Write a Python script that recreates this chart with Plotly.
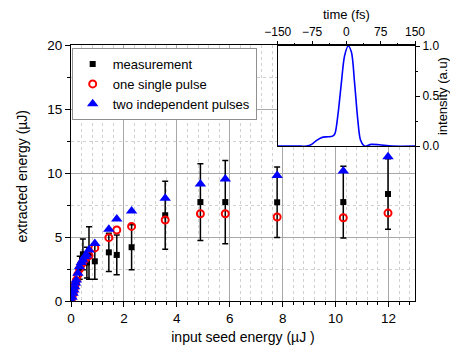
import plotly.graph_objects as go

# ---- main data ----
meas_x = [0.33, 0.45, 0.60, 0.68, 0.90, 1.43, 1.73, 2.29, 3.56, 4.89, 5.83, 7.79, 10.29, 11.98]
meas_y = [2.60, 3.65, 3.00, 3.75, 3.10, 3.80, 3.60, 4.20, 6.70, 7.73, 7.73, 7.71, 7.73, 8.36]
meas_err = [0.90, 1.20, 1.20, 2.05, 1.40, 1.50, 1.55, 1.75, 2.65, 3.00, 3.25, 2.75, 2.80, 2.76]

sim_x = [0.01, 0.04, 0.08, 0.11, 0.14, 0.17, 0.20, 0.26, 0.32, 0.39, 0.45, 0.52, 0.58, 0.68,
         0.90, 1.43, 1.73, 2.29, 3.56, 4.89, 5.83, 7.79, 10.29, 11.98]
single_y = [0.0, 0.30, 0.60, 0.85, 1.10, 1.35, 1.60, 2.05, 2.50, 2.85, 3.05, 3.25, 3.40, 3.55,
            4.15, 4.95, 5.55, 5.83, 6.33, 6.82, 6.82, 6.56, 6.50, 6.87]
two_y = [0.0, 0.30, 0.60, 0.85, 1.12, 1.40, 1.64, 2.16, 2.68, 3.00, 3.20, 3.45, 3.60, 3.98,
         4.50, 5.60, 6.40, 7.03, 8.02, 9.14, 9.53, 9.80, 10.16, 11.27]

# ---- inset data ----
t_fs = [-150, -100, -87, -76, -65, -51, -40, -30, -25, -18, -11, -4, 4, 11, 18, 25, 31, 40, 54, 72, 100, 150]
inten = [0, 0, 0.0, 0.017, 0.058, 0.09, 0.093, 0.10, 0.125, 0.33, 0.63, 0.90, 1.0, 0.94, 0.63, 0.26,
         0.06, 0.0, 0.017, 0.013, 0.0, 0.0]

y_title = "extracted energy (µJ)"
FONT = "Liberation Sans, Arial, sans-serif"

fig = go.Figure()
fig.add_trace(go.Scatter(
    x=meas_x, y=meas_y, mode="markers", name="measurement",
    marker=dict(symbol="square", size=6, color="black"),
    error_y=dict(type="data", array=meas_err, color="black", thickness=1.5, width=3),
))
fig.add_trace(go.Scatter(
    x=sim_x, y=single_y, mode="markers", name="one single pulse",
    marker=dict(symbol="circle-open", size=7, color="red", line=dict(width=2, color="red")),
))
fig.add_trace(go.Scatter(
    x=sim_x, y=two_y, mode="markers", name="two independent pulses",
    marker=dict(symbol="triangle-up", size=10, color="blue"),
))
fig.add_trace(go.Scatter(
    x=t_fs, y=inten, mode="lines", showlegend=False, xaxis="x2", yaxis="y2",
    line=dict(color="#0000ff", width=1.6, shape="spline", smoothing=0.8),
))

axis_common = dict(showline=True, linecolor="black", linewidth=1, mirror=True,
                   zeroline=False, ticks="outside", tickcolor="black", automargin=False,
                   tickfont=dict(family=FONT, size=13.5, color="black"))

fig.update_layout(
    width=450, height=348,
    margin=dict(l=71, r=35, t=45, b=47),
    paper_bgcolor="white", plot_bgcolor="white",
    font=dict(family=FONT, color="black"),
    xaxis=dict(range=[0, 13], tick0=0, dtick=2, ticklen=5,
               showgrid=True, gridcolor="#a8a8a8", gridwidth=1,
               minor=dict(dtick=0.4, ticks="outside", ticklen=3, tickcolor="black",
                          showgrid=True, gridcolor="#d0d0d0", griddash="dot", gridwidth=1),
               title=dict(text="input seed energy (µJ )", font=dict(family=FONT, size=14), standoff=6),
               **axis_common),
    yaxis=dict(range=[0, 20], tick0=0, dtick=5, ticklen=5,
               showgrid=True, gridcolor="#a8a8a8", gridwidth=1,
               minor=dict(dtick=2.5, ticks="outside", ticklen=3, tickcolor="black",
                          showgrid=True, gridcolor="#d0d0d0", griddash="dot", gridwidth=1),
               **axis_common),
    xaxis2=dict(domain=[0.601, 1.0], anchor="y2", side="top", range=[-150, 150],
                tickvals=[-150, -75, 0, 75, 150], ticklen=4, showgrid=False,
                showline=True, linecolor="black", mirror=True, zeroline=False,
                ticks="outside", tickcolor="black", automargin=False,
                minor=dict(dtick=37.5, tick0=-150, ticks="outside", ticklen=2, tickcolor="black"),
                tickfont=dict(family=FONT, size=12, color="black"),
                title=dict(text="time (fs)", font=dict(family=FONT, size=13), standoff=2)),
    yaxis2=dict(domain=[0.605, 0.996], anchor="x2", side="right", range=[0, 1],
                dtick=0.5, tickformat=".1f", ticklen=4, showgrid=False,
                showline=True, linecolor="black", mirror=True, zeroline=False,
                ticks="outside", tickcolor="black", automargin=False,
                minor=dict(dtick=0.25, ticks="outside", ticklen=2, tickcolor="black"),
                tickfont=dict(family=FONT, size=12, color="black"),
                title=dict(text="intensity (a.u)", font=dict(family=FONT, size=13), standoff=10)),
    legend=dict(x=0.002, y=0.988, xanchor="left", yanchor="top",
                bgcolor="white", bordercolor="#909090", borderwidth=1,
                font=dict(family=FONT, size=13, color="black"),
                tracegroupgap=0, itemwidth=30),
    showlegend=True,
    annotations=[dict(text=y_title, xref="paper", yref="paper", x=-0.1425, y=0.49,
                      xanchor="center", yanchor="middle", textangle=-90, showarrow=False,
                      font=dict(family=FONT, size=14, color="black"))],
)

fig.write_html("out.html", config={"displayModeBar": False},
               post_script="document.body.style.margin='0px';document.body.style.padding='0px';")
